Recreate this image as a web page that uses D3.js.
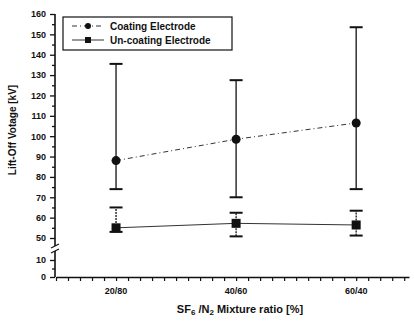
<!DOCTYPE html>
<html>
<head>
<meta charset="utf-8">
<script src="https://cdn.jsdelivr.net/npm/d3@7/dist/d3.min.js"></script>
<style>
  body { margin: 0; background: #fff; }
  svg text { font-family: "Liberation Sans", Arial, sans-serif; font-weight: bold; fill: #111; }
</style>
</head>
<body>
<div id="chart"></div>
<script>
// categories and series values
const categories = ["20/80", "40/60", "60/40"];
const coatingMean = [88, 98.5, 106.5];
const coatingLow = [74, 70, 74];
const coatingHigh = [135.5, 127.5, 153.5];
const uncoatMean = [55, 57.2, 56.4];
const uncoatLow = [53, 50.8, 51.2];
const uncoatHigh = [65, 62.4, 63.4];
const upperTicks = [50, 60, 70, 80, 90, 100, 110, 120, 130, 140, 150, 160];
const lowerTicks = [0, 10];

const W = 414, H = 321;
const svg = d3.select("#chart").append("svg").attr("width", W).attr("height", H);

const x = d3.scaleLinear().domain([0.5, 3.44]).range([56, 409]);
const yUp = d3.scaleLinear().domain([50, 160]).range([238, 14]);
const yLo = d3.scaleLinear().domain([0, 10]).range([277, 260]);
const axisX = 55, axisY = 277;
const INK = "#111";

////////////////////////////////////////////////////////////////////////
// y axis (broken)

const gUp = svg.append("g").attr("transform", `translate(${axisX},0)`)
  .call(d3.axisLeft(yUp).tickValues(upperTicks).tickSize(5).tickSizeOuter(0).tickPadding(4));
const gLo = svg.append("g").attr("transform", `translate(${axisX},0)`)
  .call(d3.axisLeft(yLo).tickValues(lowerTicks).tickSize(5).tickSizeOuter(0).tickPadding(4));
svg.append("g").attr("transform", `translate(${axisX},0)`)
  .call(d3.axisLeft(yUp).tickValues(d3.range(55, 160, 10)).tickSize(3).tickFormat(""));
svg.append("g").attr("transform", `translate(${axisX},0)`)
  .call(d3.axisLeft(yLo).tickValues([5]).tickSize(3).tickFormat(""));

svg.selectAll(".domain").remove();
svg.selectAll(".tick line").attr("stroke", INK).attr("stroke-width", 1.3);
[gUp, gLo].forEach(g => g.selectAll("text").attr("font-size", "9px").style("font-weight", "bold"));

svg.append("line").attr("x1", axisX).attr("x2", axisX).attr("y1", yUp(160)).attr("y2", 246)
  .attr("stroke", INK).attr("stroke-width", 1.6);
svg.append("line").attr("x1", axisX).attr("x2", axisX).attr("y1", 251).attr("y2", axisY)
  .attr("stroke", INK).attr("stroke-width", 1.6);
// break marks
[246, 251].forEach(yy => {
  svg.append("line").attr("x1", axisX - 4).attr("x2", axisX + 4).attr("y1", yy + 2).attr("y2", yy - 2)
    .attr("stroke", INK).attr("stroke-width", 1.2);
});

svg.append("text")
  .attr("transform", `translate(16,${130}) rotate(-90)`)
  .attr("text-anchor", "middle")
  .attr("font-size", "10px")
  .text("Lift-Off Votage [kV]");

////////////////////////////////////////////////////////////////////////
// x axis

const gx = svg.append("g").attr("transform", `translate(0,${axisY})`)
  .call(d3.axisBottom(x).tickValues(d3.range(0.5, 3.45, 0.1)).tickSize(4).tickSizeOuter(0).tickFormat(""));
gx.select(".domain").attr("stroke", INK).attr("stroke-width", 1.6);
gx.selectAll(".tick line").attr("stroke", INK).attr("stroke-width", 1.2);

svg.append("g").selectAll("text").data(categories).join("text")
  .attr("x", (d, i) => x(i + 1))
  .attr("y", 294)
  .attr("text-anchor", "middle")
  .attr("font-size", "9px")
  .text(d => d);

const title = svg.append("text").attr("x", 240).attr("y", 313).attr("text-anchor", "middle").attr("font-size", "11px");
title.append("tspan").text("SF");
title.append("tspan").attr("font-size", "8px").attr("dy", 2).text("6");
title.append("tspan").attr("dy", -2).text(" /N");
title.append("tspan").attr("font-size", "8px").attr("dy", 2).text("2");
title.append("tspan").attr("dy", -2).text(" Mixture ratio [%]");

////////////////////////////////////////////////////////////////////////
// series

const idx = d3.range(categories.length);
const line = d3.line().x(i => x(i + 1));

svg.append("path").datum(idx)
  .attr("d", line.y(i => yUp(coatingMean[i])))
  .attr("fill", "none").attr("stroke", "#333").attr("stroke-width", 1)
  .attr("stroke-dasharray", "5,3,1,3");
svg.append("path").datum(idx)
  .attr("d", line.y(i => yUp(uncoatMean[i])))
  .attr("fill", "none").attr("stroke", "#333").attr("stroke-width", 1);

// error bars
function errorBars(lo, hi, dash) {
  const g = svg.append("g");
  g.selectAll("line.v").data(idx).join("line")
    .attr("x1", i => x(i + 1)).attr("x2", i => x(i + 1))
    .attr("y1", i => yUp(lo[i])).attr("y2", i => yUp(hi[i]))
    .attr("stroke", INK).attr("stroke-width", 1.3)
    .attr("stroke-dasharray", dash);
  [lo, hi].forEach(arr => {
    g.selectAll(null).data(idx).join("line")
      .attr("x1", i => x(i + 1) - 6.5).attr("x2", i => x(i + 1) + 6.5)
      .attr("y1", i => yUp(arr[i])).attr("y2", i => yUp(arr[i]))
      .attr("stroke", INK).attr("stroke-width", 2);
  });
}
errorBars(coatingLow, coatingHigh, null);
errorBars(uncoatLow, uncoatHigh, "2,1");

svg.append("g").selectAll("circle").data(idx).join("circle")
  .attr("cx", i => x(i + 1)).attr("cy", i => yUp(coatingMean[i]))
  .attr("r", 4.5).attr("fill", INK);
svg.append("g").selectAll("rect").data(idx).join("rect")
  .attr("x", i => x(i + 1) - 4.5).attr("y", i => yUp(uncoatMean[i]) - 4.5)
  .attr("width", 9).attr("height", 9).attr("fill", INK);

////////////////////////////////////////////////////////////////////////
// legend

const lg = svg.append("g");
lg.append("rect").attr("x", 63).attr("y", 17).attr("width", 169).attr("height", 33)
  .attr("fill", "#fff").attr("stroke", INK).attr("stroke-width", 1.2);
const legendItems = [
  { label: "Coating Electrode", dash: "5,3,1,3", shape: "circle", y: 26 },
  { label: "Un-coating Electrode", dash: null, shape: "square", y: 40 }
];
legendItems.forEach(it => {
  lg.append("line").attr("x1", 72).attr("x2", 104).attr("y1", it.y).attr("y2", it.y)
    .attr("stroke", "#333").attr("stroke-width", 1).attr("stroke-dasharray", it.dash);
  if (it.shape === "circle") {
    lg.append("circle").attr("cx", 88).attr("cy", it.y).attr("r", 3).attr("fill", INK);
  } else {
    lg.append("rect").attr("x", 85).attr("y", it.y - 3).attr("width", 6).attr("height", 6).attr("fill", INK);
  }
  lg.append("text").attr("x", 110).attr("y", it.y + 3.5).attr("font-size", "10px").text(it.label);
});
</script>
</body>
</html>
